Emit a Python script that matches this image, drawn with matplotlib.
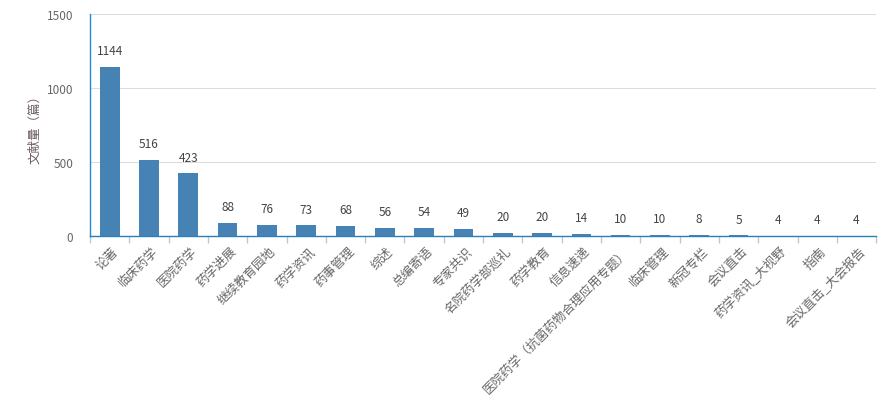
import numpy as np
import matplotlib
matplotlib.use("Agg")
import matplotlib.pyplot as plt
from matplotlib.transforms import offset_copy

plt.rcParams['font.family'] = ['Noto Sans CJK SC', 'DejaVu Sans']

categories = ["论著", "临床药学", "医院药学", "药学进展", "继续教育园地", "药学资讯",
              "药事管理", "综述", "总编寄语", "专家共识", "名院药学部巡礼", "药学教育",
              "信息速递", "医院药学（抗菌药物合理应用专题）", "临床管理", "新冠专栏",
              "会议直击", "药学资讯_大视野", "指南", "会议直击_大会报告"]
counts = [1144, 516, 423, 88, 76, 73, 68, 56, 54, 49, 20, 20, 14, 10, 10, 8, 5, 4, 4, 4]
yticks = [0, 500, 1000, 1500]

fig = plt.figure(figsize=(8.94, 4.02), dpi=100)
ax = fig.add_axes([0.1007, 0.410, 0.8793, 0.553])

x = np.arange(len(categories))
ax.bar(x, counts, width=0.5, color="#4682b4", zorder=3)

for xi, v in zip(x, counts):
    ax.annotate(str(v), (xi, v), xytext=(0, 7), textcoords="offset points",
                ha="center", va="bottom", fontsize=8.5, color="#444444")

ax.set_xlim(-0.5, len(categories) - 0.5)
ax.set_ylim(0, 1500)
ax.set_yticks(yticks)
ax.set_yticklabels([str(t) for t in yticks], fontsize=8.5, color="#666666")
ax.tick_params(axis="y", length=0, pad=12)
ax.yaxis.grid(True, color="#dddddd", linewidth=0.8, zorder=0)

# ticks sit between categories
ax.set_xticks(np.arange(len(categories) + 1) - 0.5)
ax.set_xticklabels([])
ax.tick_params(axis="x", length=5, color="#b9c9dc", width=1)

trans = offset_copy(ax.get_xaxis_transform(), fig=fig, x=2, y=-8, units="dots")
for xi, lab in zip(x, categories):
    ax.text(xi, 0, lab, transform=trans, rotation=45, rotation_mode="anchor",
            ha="right", va="top", fontsize=9, color="#666666")

for side in ["top", "right"]:
    ax.spines[side].set_visible(False)
ax.spines["left"].set_color("#1f8bd0")
ax.spines["bottom"].set_color("#2a7fb8")
ax.spines["left"].set_linewidth(1)
ax.spines["bottom"].set_linewidth(1)

ax.set_ylabel("文献量（篇）", fontsize=9, color="#6b5b5b", labelpad=4)

fig.savefig("out.png", dpi=100)
